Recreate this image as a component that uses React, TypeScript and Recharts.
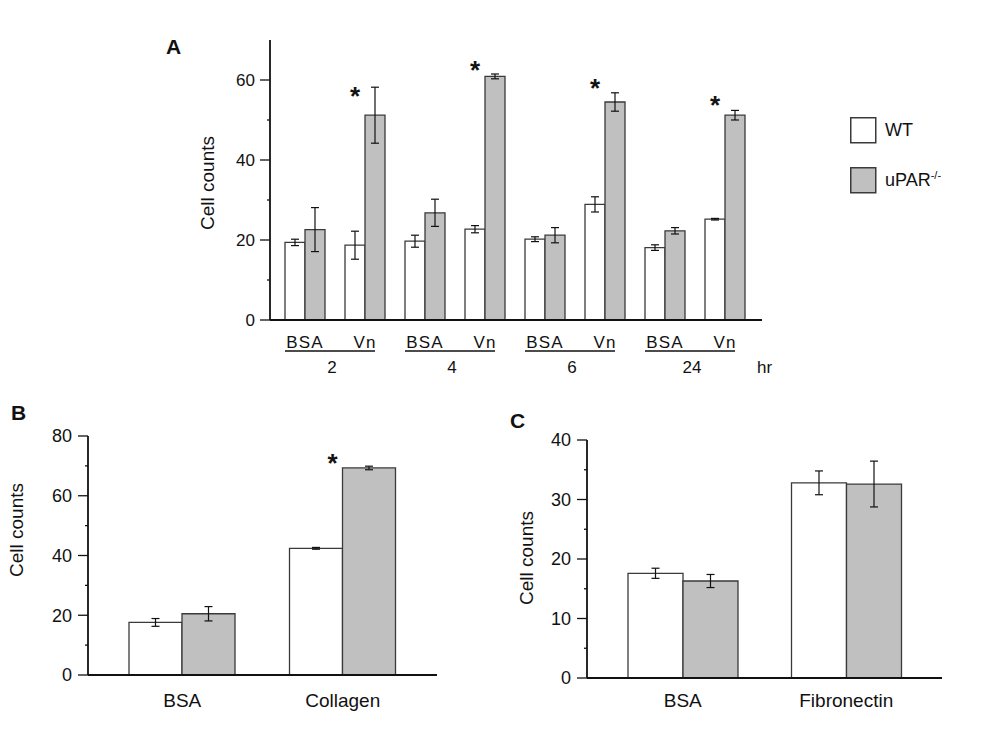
import React from 'react';
import { BarChart, Bar, XAxis, YAxis, ErrorBar, Legend, Label, LabelList } from 'recharts';

// ---------- Panel A data ----------
const catA = ['BSA', 'Vn', 'BSA', 'Vn', 'BSA', 'Vn', 'BSA', 'Vn'];
const hoursA = ['2', '4', '6', '24'];
const wtA = [19.4, 18.7, 19.7, 22.7, 20.2, 28.9, 18.1, 25.2];
const wtErrA = [0.8, 3.5, 1.5, 0.9, 0.6, 1.9, 0.7, 0.2];
const upA = [22.6, 51.2, 26.8, 60.9, 21.2, 54.5, 22.3, 51.2];
const upErrA = [5.5, 7.0, 3.4, 0.6, 1.9, 2.3, 0.8, 1.2];
const starA = [null, 57.2, null, 63.7, null, 59.2, null, 55.0];
const ticksA = [0, 10, 20, 30, 40, 50, 60];

// ---------- Panel B data ----------
const catB = ['BSA', 'Collagen'];
const wtB = [17.6, 42.4];
const wtErrB = [1.3, 0.3];
const upB = [20.5, 69.3];
const upErrB = [2.4, 0.6];
const starB = [null, 72.8];
const ticksB = [0, 10, 20, 30, 40, 50, 60, 70, 80];

// ---------- Panel C data ----------
const catC = ['BSA', 'Fibronectin'];
const wtC = [17.6, 32.8];
const wtErrC = [0.85, 2.0];
const upC = [16.3, 32.6];
const upErrC = [1.1, 3.85];
const starC = [null, null];
const ticksC = [0, 5, 10, 15, 20, 25, 30, 35, 40];

const seriesNames = ['WT', 'uPAR-/-'];

const FONT = '"Liberation Sans", Arial, Helvetica, sans-serif';
const INK = '#111';
const EDGE = '#3a3a3a';
const GREY = '#c0c0c0';
const WHITE = '#ffffff';

const build = (cats: string[], wt: number[], wtErr: number[], up: number[], upErr: number[], star: (number | null)[], prefix: string[] | null) =>
  cats.map((c, i) => ({
    id: prefix ? `${prefix[Math.floor(i / 2)]}-${c}` : c,
    wt: wt[i],
    wtErr: wtErr[i],
    up: up[i],
    upErr: upErr[i],
    star: star[i],
  }));

const dataA = build(catA, wtA, wtErrA, upA, upErrA, starA, hoursA);
const dataB = build(catB, wtB, wtErrB, upB, upErrB, starB, null);
const dataC = build(catC, wtC, wtErrC, upC, upErrC, starC, null);

const makeYTick = (step: number, fs: number, tickLen: number, gap: number) => (props: any) => {
  const { x, y, payload } = props;
  const v = payload.value;
  if (v % step !== 0) {
    return <line x1={x - 3} x2={x} y1={y} y2={y} stroke={INK} strokeWidth={1.3} />;
  }
  return (
    <g>
      <line x1={x - tickLen} x2={x} y1={y} y2={y} stroke={INK} strokeWidth={1.3} />
      <text x={x - gap} y={y} dy="0.36em" textAnchor="end" fontSize={fs} fontFamily={FONT} fill={INK}>
        {v}
      </text>
    </g>
  );
};

const XTickA = (props: any) => {
  const { x, y } = props;
  const index = props.index ?? props.payload?.index ?? 0;
  const first = index % 2 === 0;
  return (
    <g fontFamily={FONT} fill={INK}>
      <text x={x} y={y + 28} textAnchor="middle" fontSize={17} letterSpacing={1.2} fill={INK}>
        {catA[index]}
      </text>
      {first && <line x1={x - 20} x2={x + 70} y1={y + 31} y2={y + 31} stroke={INK} strokeWidth={1.6} />}
      {first && (
        <text x={x + 27} y={y + 53} textAnchor="middle" fontSize={17} fill={INK}>
          {hoursA[index / 2]}
        </text>
      )}
      {index === catA.length - 1 && (
        <text x={x + 32} y={y + 53} fontSize={17} fill={INK}>
          hr
        </text>
      )}
    </g>
  );
};

const makeXTick = (cats: string[], dy: number) => (props: any) => {
  const { x, y } = props;
  const index = props.index ?? props.payload?.index ?? 0;
  return (
    <text x={x} y={y + dy} textAnchor="middle" fontSize={19} fontFamily={FONT} fill={INK}>
      {cats[index]}
    </text>
  );
};

const makeYLabel = (dx: number, cy: number) => (props: any) => {
  const vb = props.viewBox || {};
  const axisX = vb.x + vb.width;
  const x = axisX + dx;
  return (
    <text x={x} y={cy} transform={`rotate(-90 ${x} ${cy})`} textAnchor="middle" fontSize={19} fontFamily={FONT} fill={INK}>
      Cell counts
    </text>
  );
};

const makeStar = (vals: number[]) => (props: any) => {
  const { value, index } = props;
  if (value == null) return null;
  const vb = props.viewBox || props;
  const x = vb.x ?? props.x;
  const y = vb.y ?? props.y;
  const w = vb.width ?? props.width;
  const h = vb.height ?? props.height;
  const v = vals[index];
  if (!v || !h) return null;
  const base = y + h;
  const cy = base - (value * h) / v;
  return (
    <text x={x + w - 10} y={cy + 14} textAnchor="middle" fontSize={26} fontWeight="bold" fontFamily={FONT} fill={INK}>
      *
    </text>
  );
};

const LegendContent = (props: any) => {
  const items = (props.payload || []).filter((it: any) => it.type !== 'none');
  return (
    <svg width={130} height={80} style={{ display: 'block' }}>
      {items.map((it: any, i: number) => {
        const name: string = String(it.value);
        const sup = name.endsWith('-/-');
        const main = sup ? name.slice(0, -3) : name;
        const fill = it.dataKey === 'wt' ? WHITE : GREY;
        return (
          <g key={i} transform={`translate(0, ${i * 50})`}>
            <rect x={0.75} y={0.75} width={25} height={25} fill={fill} stroke={EDGE} strokeWidth={1.5} />
            <text x={35} y={13} dy="0.36em" fontSize={18} fontFamily={FONT} fill={INK}>
              {main}
              {sup && (
                <tspan fontSize={11} dy="-0.7em">
                  -/-
                </tspan>
              )}
            </text>
          </g>
        );
      })}
    </svg>
  );
};

const axisStyle = { stroke: INK, strokeWidth: 1.8 };

export default function App() {
  return (
    <div style={{ position: 'absolute', left: 0, top: 0, width: 1000, height: 750, background: '#fff' }}>
      {/* Panel A */}
      <div style={{ position: 'absolute', left: 0, top: 0 }}>
        <BarChart width={1000} height={400} data={dataA} margin={{ top: 40, right: 238, bottom: 20, left: 208 }} barGap={0} barCategoryGap={10}>
          <XAxis dataKey="id" height={60} padding={{ left: 5, right: 7 }} axisLine={axisStyle} tickLine={false} tickSize={0} tickMargin={0} interval={0} tick={<XTickA />} />
          <YAxis width={62} type="number" domain={[0, 70]} ticks={ticksA} interval={0} allowDataOverflow axisLine={axisStyle} tickLine={false} tickSize={0} tickMargin={0} tick={makeYTick(20, 17, 10, 15)}>
            <Label content={makeYLabel(-56, 183)} />
          </YAxis>
          <Legend layout="vertical" align="center" verticalAlign="middle" wrapperStyle={{ left: 850, top: 117, width: 130, height: 80 }} content={<LegendContent />} />
          <Bar dataKey="wt" name={seriesNames[0]} fill={WHITE} stroke={EDGE} strokeWidth={1.3} isAnimationActive={false}>
            <ErrorBar dataKey="wtErr" direction="y" width={4} stroke={INK} strokeWidth={1.2} />
            <LabelList dataKey="star" content={makeStar(wtA)} />
          </Bar>
          <Bar dataKey="up" name={seriesNames[1]} fill={GREY} stroke={EDGE} strokeWidth={1.3} isAnimationActive={false}>
            <ErrorBar dataKey="upErr" direction="y" width={4} stroke={INK} strokeWidth={1.2} />
          </Bar>
        </BarChart>
      </div>

      {/* Panel B */}
      <div style={{ position: 'absolute', left: 0, top: 400 }}>
        <BarChart width={470} height={320} data={dataB} margin={{ top: 36, right: 33, bottom: 15, left: 28 }} barGap={0} barCategoryGap={27}>
          <XAxis dataKey="id" height={30} padding={{ left: 14, right: 14 }} axisLine={axisStyle} tickLine={false} tickSize={0} tickMargin={0} interval={0} tick={makeXTick(catB, 32)} />
          <YAxis width={60} type="number" domain={[0, 80]} ticks={ticksB} interval={0} allowDataOverflow axisLine={axisStyle} tickLine={false} tickSize={0} tickMargin={0} tick={makeYTick(20, 18, 10, 16)}>
            <Label content={makeYLabel(-65, 130)} />
          </YAxis>
          <Bar dataKey="wt" name={seriesNames[0]} fill={WHITE} stroke={EDGE} strokeWidth={1.3} isAnimationActive={false}>
            <ErrorBar dataKey="wtErr" direction="y" width={4} stroke={INK} strokeWidth={1.2} />
            <LabelList dataKey="star" content={makeStar(wtB)} />
          </Bar>
          <Bar dataKey="up" name={seriesNames[1]} fill={GREY} stroke={EDGE} strokeWidth={1.3} isAnimationActive={false}>
            <ErrorBar dataKey="upErr" direction="y" width={4} stroke={INK} strokeWidth={1.2} />
          </Bar>
        </BarChart>
      </div>

      {/* Panel C */}
      <div style={{ position: 'absolute', left: 500, top: 400 }}>
        <BarChart width={480} height={320} data={dataC} margin={{ top: 40, right: 38, bottom: 12, left: 27 }} barGap={0} barCategoryGap={27}>
          <XAxis dataKey="id" height={30} padding={{ left: 14, right: 14 }} axisLine={axisStyle} tickLine={false} tickSize={0} tickMargin={0} interval={0} tick={makeXTick(catC, 29)} />
          <YAxis width={60} type="number" domain={[0, 40]} ticks={ticksC} interval={0} allowDataOverflow axisLine={axisStyle} tickLine={false} tickSize={0} tickMargin={0} tick={makeYTick(10, 18, 10, 16)}>
            <Label content={makeYLabel(-54, 158)} />
          </YAxis>
          <Bar dataKey="wt" name={seriesNames[0]} fill={WHITE} stroke={EDGE} strokeWidth={1.3} isAnimationActive={false}>
            <ErrorBar dataKey="wtErr" direction="y" width={4} stroke={INK} strokeWidth={1.2} />
          </Bar>
          <Bar dataKey="up" name={seriesNames[1]} fill={GREY} stroke={EDGE} strokeWidth={1.3} isAnimationActive={false}>
            <ErrorBar dataKey="upErr" direction="y" width={4} stroke={INK} strokeWidth={1.2} />
          </Bar>
        </BarChart>
      </div>

      {/* Panel letters */}
      <svg width={1000} height={750} style={{ position: 'absolute', left: 0, top: 0, pointerEvents: 'none' }}>
        <text x={166} y={54} fontSize={21} fontWeight="bold" fontFamily={FONT} fill={INK}>A</text>
        <text x={11} y={420} fontSize={21} fontWeight="bold" fontFamily={FONT} fill={INK}>B</text>
        <text x={510} y={428} fontSize={21} fontWeight="bold" fontFamily={FONT} fill={INK}>C</text>
      </svg>
    </div>
  );
}
